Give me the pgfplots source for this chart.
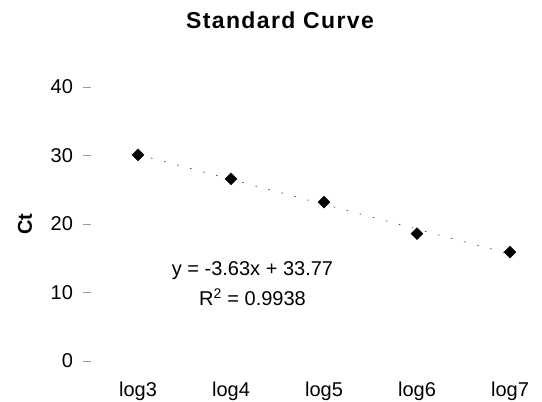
\documentclass[border=0pt]{standalone}
\usepackage{fontspec}
\setmainfont{Liberation Sans}
\usepackage{pgfplots}
\pgfplotsset{compat=1.18}

\begin{document}
\begin{tikzpicture}
\begin{axis}[
    scale only axis,
    width=465pt, height=274pt,
    xmin=0.5, xmax=5.5,
    ymin=0, ymax=40,
    axis line style={draw=none},
    clip=false,
    font=\fontsize{20}{24}\selectfont,
    /pgf/number format/assume math mode=true,
    xtick={1,2,3,4,5},
    xticklabels={log3,log4,log5,log6,log7},
    major x tick style={draw=none},
    xticklabel style={yshift=-9pt},
    ytick={0,10,20,30,40},
    ytick pos=left,
    tick align=outside,
    major tick length=8pt,
    y tick style={color=black!40, line width=0.6pt},
    yticklabel style={xshift=-7pt},
]
\coordinate (bl) at (rel axis cs:0,0);
% linear trendline
\addplot[black!75, line width=0.7pt, dash pattern=on 1.5pt off 12pt] coordinates {
    (1, 30.14) (5, 15.62)
};
\addplot[only marks, mark=diamond*, mark size=6pt, mark options={xscale=1.333, fill=black, draw=black}] coordinates {
    (1, 30.1) (2, 26.6) (3, 23.2) (4, 18.6) (5, 15.9)
};
\node[anchor=base, font=\fontsize{20}{24}\selectfont] at (axis cs:2.231, 12.55) {y = -3.63x + 33.77};
\node[anchor=base, font=\fontsize{20}{24}\selectfont] at (axis cs:2.231, 8.03) {R\textsuperscript{2} = 0.9938};
\end{axis}
\node[anchor=base, font=\fontsize{23}{26}\selectfont\bfseries\addfontfeature{LetterSpace=6}] at ([shift={(188.5pt,332pt)}]bl) {Standard Curve};
\node[font=\fontsize{20}{24}\selectfont\bfseries, rotate=90] at ([shift={(-66.5pt,137pt)}]bl) {Ct};
\pgfresetboundingbox
\path[use as bounding box] ([shift={(-91.5pt,-41pt)}]bl) rectangle ([shift={(450.5pt,361pt)}]bl);
\end{tikzpicture}
\end{document}
